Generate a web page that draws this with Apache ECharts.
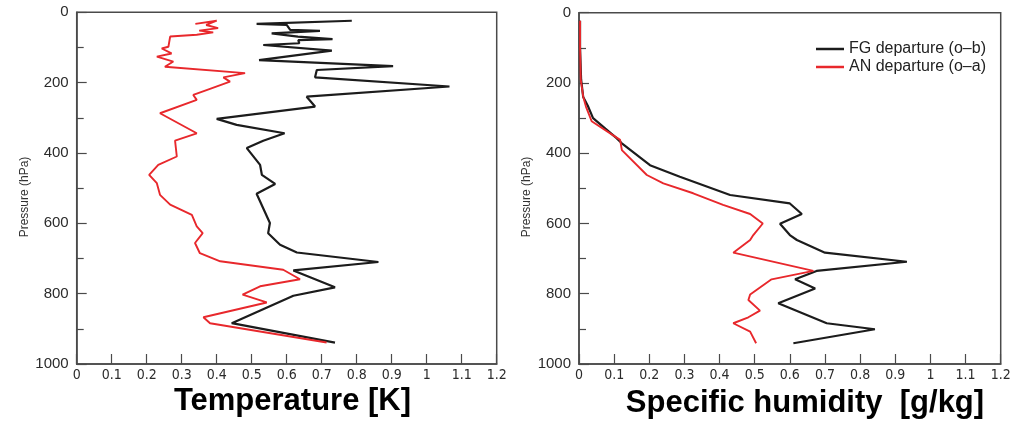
<!DOCTYPE html>
<html>
<head>
<meta charset="utf-8">
<script src="https://cdn.jsdelivr.net/npm/echarts@6/dist/echarts.min.js"></script>
<style>
html,body{margin:0;padding:0;background:#fff;}
#chart{width:1025px;height:422px;}
</style>
</head>
<body>
<div id="chart"></div>
<script>
// ---- Data ----
const SERIES_NAMES = ['FG departure (o\u2013b)', 'AN departure (o\u2013a)'];

// Temperature panel [K]
const TEMP_FG_P = [24, 33, 36, 50, 53, 60, 69, 76, 79, 88, 93, 109, 136, 153, 164, 185, 211, 240, 268, 303, 320, 344, 365, 386, 434, 462, 488, 516, 599, 628, 661, 683, 710, 734, 782, 806, 884, 939];
const TEMP_FG_V = [0.786, 0.514, 0.60, 0.61, 0.695, 0.557, 0.632, 0.731, 0.633, 0.636, 0.533, 0.729, 0.521, 0.904, 0.686, 0.681, 1.065, 0.657, 0.681, 0.40, 0.457, 0.594, 0.533, 0.486, 0.524, 0.529, 0.567, 0.514, 0.552, 0.547, 0.581, 0.629, 0.862, 0.619, 0.738, 0.619, 0.443, 0.738];

const TEMP_AN_P = [33, 24, 36, 45, 52, 57, 64, 69, 98, 103, 117, 126, 140, 155, 173, 185, 197, 221, 235, 249, 287, 344, 365, 410, 434, 462, 486, 519, 547, 576, 609, 628, 656, 685, 708, 732, 759, 779, 803, 825, 867, 884, 939];
const TEMP_AN_V = [0.339, 0.40, 0.37, 0.404, 0.35, 0.39, 0.343, 0.267, 0.262, 0.243, 0.271, 0.229, 0.276, 0.252, 0.481, 0.419, 0.438, 0.371, 0.333, 0.343, 0.238, 0.343, 0.281, 0.286, 0.233, 0.207, 0.229, 0.238, 0.267, 0.329, 0.343, 0.36, 0.338, 0.352, 0.41, 0.59, 0.638, 0.524, 0.474, 0.543, 0.362, 0.381, 0.714];

// Specific humidity panel [g/kg]
const HUM_FG_P = [23, 100, 190, 240, 265, 300, 330, 357, 371, 434, 467, 519, 543, 573, 601, 633, 647, 683, 709, 735, 759, 785, 827, 884, 901, 941];
const HUM_FG_V = [0.003, 0.003, 0.006, 0.012, 0.025, 0.04, 0.075, 0.107, 0.121, 0.202, 0.287, 0.43, 0.60, 0.634, 0.572, 0.60, 0.62, 0.70, 0.933, 0.676, 0.615, 0.672, 0.567, 0.705, 0.842, 0.61];

const HUM_AN_P = [23, 100, 191, 239, 268, 309, 362, 391, 462, 486, 514, 547, 573, 600, 633, 647, 683, 735, 759, 802, 818, 848, 867, 884, 908, 941];
const HUM_AN_V = [0.003, 0.003, 0.005, 0.012, 0.02, 0.036, 0.117, 0.122, 0.193, 0.24, 0.325, 0.41, 0.487, 0.523, 0.496, 0.487, 0.439, 0.667, 0.548, 0.487, 0.482, 0.515, 0.482, 0.439, 0.487, 0.504];

const X_LABEL_MIN = 0, X_LABEL_MAX = 1.2, X_STEP = 0.1;
const P_MIN = 0, P_MAX = 1000, P_STEP = 200;

const AXIS_TITLES = ['Temperature [K]', 'Specific humidity  [g/kg]'];
const Y_NAME = 'Pressure (hPa)';

// ---- Build ----
function pairs(vals, ps) { return vals.map((v, i) => [v, ps[i]]); }

const FRAME = '#4a4a4a';
const LABEL = '#2b2b2b';
const NARROW = "'Liberation Sans Narrow','DejaVu Sans Condensed','Roboto Condensed',sans-serif";
const SANS = "'Liberation Sans',Arial,sans-serif";

function xAxis(gi) {
  return {
    type: 'value', gridIndex: gi, position: 'bottom', min: X_LABEL_MIN, max: X_LABEL_MAX, interval: X_STEP,
    axisLine: { show: true, onZero: false, lineStyle: { color: FRAME, width: 1.5 } },
    axisTick: { show: true, inside: true, length: 10, lineStyle: { color: FRAME, width: 1.2 } },
    axisLabel: {
      margin: 4, fontSize: 14, fontFamily: NARROW, color: LABEL,
      formatter: v => String(Math.round(v * 10) / 10)
    },
    splitLine: { show: false }
  };
}
function yAxis(gi) {
  return {
    type: 'value', gridIndex: gi, position: 'left', inverse: true, min: P_MIN, max: P_MAX, interval: P_STEP,
    axisLine: { show: true, onZero: false, lineStyle: { color: FRAME, width: 1.5 } },
    axisTick: { show: true, inside: true, length: 10, lineStyle: { color: FRAME, width: 1.2 } },
    minorTick: { show: true, splitNumber: 2, length: 7, lineStyle: { color: FRAME, width: 1.2 } },
    axisLabel: { margin: 8, fontSize: 15, fontFamily: SANS, color: LABEL, formatter: v => String(v) },
    splitLine: { show: false }
  };
}
function line(name, data, gi, color, width) {
  return {
    type: 'line', name: name, xAxisIndex: gi, yAxisIndex: gi, data: data,
    symbol: 'none', animation: false,
    lineStyle: { color: color, width: width }, itemStyle: { color: color }
  };
}

const BLACK = '#1c1c1c', RED = '#e8282c';

const option = {
  animation: false,
  backgroundColor: '#ffffff',
  grid: [
    { left: 76.7, top: 12.3, width: 420, height: 351.7, show: true, borderColor: FRAME, borderWidth: 1.5 },
    { left: 579, top: 12.7, width: 421.7, height: 351.3, show: true, borderColor: FRAME, borderWidth: 1.5 }
  ],
  xAxis: [xAxis(0), xAxis(1)],
  yAxis: [yAxis(0), yAxis(1)],
  legend: {
    data: SERIES_NAMES, orient: 'vertical', left: 811, top: 36,
    icon: 'rect', itemWidth: 28, itemHeight: 2.5, itemGap: 2,
    textStyle: { fontSize: 16, lineHeight: 16, fontFamily: SANS, color: '#222' }
  },
  series: [
    line(SERIES_NAMES[0], pairs(TEMP_FG_V, TEMP_FG_P), 0, BLACK, 2.2),
    line(SERIES_NAMES[1], pairs(TEMP_AN_V, TEMP_AN_P), 0, RED, 1.9),
    line(SERIES_NAMES[0], pairs(HUM_FG_V, HUM_FG_P), 1, BLACK, 2.2),
    line(SERIES_NAMES[1], pairs(HUM_AN_V, HUM_AN_P), 1, RED, 1.9)
  ],
  graphic: [
    { type: 'text', x: 292.5, y: 401, style: { text: AXIS_TITLES[0], font: 'bold 31px ' + SANS, fill: '#000', align: 'center', verticalAlign: 'middle' } },
    { type: 'text', x: 805, y: 403, style: { text: AXIS_TITLES[1], font: 'bold 31px ' + SANS, fill: '#000', align: 'center', verticalAlign: 'middle' } },
    { type: 'text', x: 25, y: 197, rotation: Math.PI / 2, style: { text: Y_NAME, font: '12px ' + SANS, fill: '#333', align: 'center', verticalAlign: 'middle' } },
    { type: 'text', x: 527, y: 197, rotation: Math.PI / 2, style: { text: Y_NAME, font: '12px ' + SANS, fill: '#333', align: 'center', verticalAlign: 'middle' } }
  ]
};

const chart = echarts.init(document.getElementById('chart'), null, { renderer: 'canvas' });
chart.setOption(option);
</script>
</body>
</html>
